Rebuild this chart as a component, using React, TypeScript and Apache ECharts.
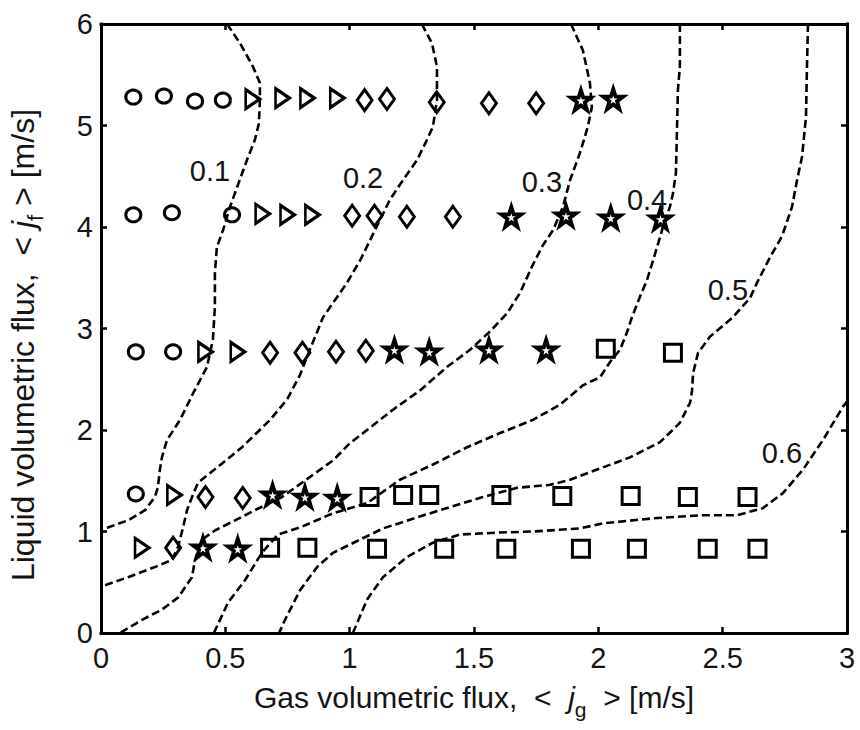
import React, { useEffect, useRef } from 'react';
import * as echarts from 'echarts';

const FONT = '"Liberation Sans", Arial, sans-serif';
const TEXT_COLOR = '#141414';

// axis ranges / ticks
const xRange = [0, 3];
const xStep = 0.5;
const yRange = [0, 6];
const yStep = 1;

// measured marker points [jg, jf]
const circlePts = [
  [0.13, 5.28], [0.253, 5.29], [0.378, 5.24], [0.49, 5.25],
  [0.13, 4.12], [0.285, 4.14], [0.527, 4.12],
  [0.14, 2.77], [0.29, 2.77],
  [0.14, 1.37],
];
const trianglePts = [
  [0.61, 5.26], [0.73, 5.27], [0.83, 5.27], [0.95, 5.27],
  [0.65, 4.13], [0.75, 4.12], [0.85, 4.12],
  [0.42, 2.77], [0.55, 2.77],
  [0.295, 1.36],
  [0.165, 0.84],
];
const diamondPts = [
  [1.06, 5.25], [1.15, 5.26], [1.35, 5.23], [1.56, 5.22], [1.75, 5.22],
  [1.01, 4.11], [1.10, 4.11], [1.23, 4.10], [1.415, 4.10],
  [0.68, 2.76], [0.81, 2.76], [0.945, 2.77], [1.065, 2.78],
  [0.42, 1.34], [0.57, 1.33],
  [0.29, 0.84],
];
const starPts = [
  [1.93, 5.25], [2.06, 5.26],
  [1.65, 4.10], [1.87, 4.11], [2.05, 4.09], [2.25, 4.08],
  [1.18, 2.79], [1.32, 2.77], [1.56, 2.79], [1.79, 2.79],
  [0.69, 1.36], [0.82, 1.34], [0.95, 1.33],
  [0.41, 0.84], [0.55, 0.83],
];
const squarePts = [
  [2.03, 2.80], [2.30, 2.76],
  [1.08, 1.34], [1.215, 1.36], [1.32, 1.36], [1.61, 1.36], [1.855, 1.35], [2.13, 1.35], [2.36, 1.34], [2.60, 1.34],
  [0.68, 0.84], [0.83, 0.84], [1.11, 0.83], [1.38, 0.83], [1.63, 0.83], [1.93, 0.83], [2.155, 0.83], [2.44, 0.83], [2.64, 0.83],
];

// contour lines of void fraction
const contour01 = [
  [0.507, 6.0], [0.559, 5.81], [0.611, 5.58], [0.639, 5.42], [0.639, 5.25], [0.635, 5.02], [0.619, 4.86],
  [0.587, 4.66], [0.547, 4.39], [0.519, 4.20], [0.491, 3.97], [0.466, 3.80], [0.458, 3.55], [0.458, 3.21],
  [0.450, 2.89], [0.426, 2.62], [0.370, 2.36], [0.318, 2.10], [0.265, 1.90], [0.245, 1.73], [0.237, 1.61],
  [0.229, 1.44], [0.217, 1.34], [0.177, 1.21], [0.109, 1.11], [0.028, 1.04], [0, 1.03],
];
const contour02 = [
  [1.29, 6.0], [1.331, 5.81], [1.351, 5.58], [1.351, 5.25], [1.335, 4.99], [1.311, 4.86], [1.271, 4.66],
  [1.214, 4.46], [1.162, 4.27], [1.082, 3.87], [1.042, 3.67], [0.989, 3.45], [0.893, 3.11], [0.828, 2.72],
  [0.80, 2.54], [0.748, 2.30], [0.68, 2.10], [0.567, 1.83], [0.487, 1.67], [0.390, 1.48], [0.366, 1.34],
  [0.346, 1.21], [0.330, 1.04], [0.310, 0.85], [0.286, 0.72], [0.217, 0.65], [0.109, 0.55], [0.016, 0.47], [0, 0.46],
];
const contour03 = [
  [1.89, 6.0], [1.938, 5.74], [1.966, 5.42], [1.974, 5.18], [1.958, 4.99], [1.926, 4.73], [1.886, 4.46],
  [1.858, 4.20], [1.818, 3.97], [1.777, 3.82], [1.733, 3.61], [1.685, 3.35], [1.633, 3.15], [1.564, 2.97],
  [1.484, 2.79], [1.391, 2.62], [1.283, 2.39], [1.174, 2.20], [1.070, 2.00], [1.001, 1.87], [0.933, 1.70],
  [0.808, 1.48], [0.728, 1.34], [0.619, 1.21], [0.539, 1.11], [0.458, 1.01], [0.406, 0.92], [0.378, 0.72],
  [0.366, 0.55], [0.310, 0.35], [0.245, 0.23], [0.165, 0.13], [0.097, 0.03], [0.076, 0],
];
const contour04 = [
  [2.328, 6.0], [2.328, 5.58], [2.320, 5.35], [2.316, 4.93], [2.312, 4.53], [2.300, 4.33], [2.288, 4.20],
  [2.260, 4.00], [2.236, 3.80], [2.220, 3.67], [2.196, 3.48], [2.167, 3.31], [2.135, 3.11], [2.115, 2.96],
  [2.087, 2.79], [2.047, 2.67], [2.007, 2.52], [1.938, 2.44], [1.846, 2.25], [1.737, 2.10], [1.605, 1.97],
  [1.472, 1.83], [1.335, 1.66], [1.202, 1.51], [1.070, 1.28], [0.933, 1.18], [0.800, 1.04], [0.712, 0.97],
  [0.647, 0.79], [0.579, 0.52], [0.511, 0.30], [0.454, 0],
];
const contour05 = [
  [2.843, 6.0], [2.839, 5.58], [2.835, 5.08], [2.819, 4.69], [2.799, 4.46], [2.779, 4.20], [2.743, 3.94],
  [2.730, 3.87], [2.690, 3.70], [2.638, 3.45], [2.610, 3.30], [2.541, 3.11], [2.449, 2.92], [2.401, 2.76],
  [2.381, 2.56], [2.377, 2.39], [2.369, 2.27], [2.328, 2.07], [2.248, 1.88], [2.127, 1.73], [1.995, 1.61],
  [1.886, 1.51], [1.806, 1.46], [1.673, 1.43], [1.536, 1.34], [1.403, 1.24], [1.271, 1.14], [1.134, 1.03],
  [1.042, 0.92], [0.933, 0.79], [0.869, 0.65], [0.800, 0.42], [0.740, 0.13], [0.716, 0],
];
const contour06 = [
  [1.013, 0], [1.070, 0.33], [1.134, 0.55], [1.231, 0.75], [1.335, 0.89], [1.444, 0.97], [1.605, 0.99],
  [1.737, 1.00], [1.926, 1.03], [2.019, 1.08], [2.220, 1.13], [2.421, 1.16], [2.558, 1.16], [2.662, 1.23],
  [2.743, 1.38], [2.823, 1.61], [2.903, 1.90], [2.984, 2.23], [3.0, 2.28],
];
const contours = [contour01, contour02, contour03, contour04, contour05, contour06];
const contourLevels = ['0.1', '0.2', '0.3', '0.4', '0.5', '0.6'];
const contourLabelAt = [
  [0.438, 4.55], [1.054, 4.48], [1.773, 4.44], [2.196, 4.27], [2.521, 3.38], [2.738, 1.77],
];

const STAR = 'path://M50,2 L61,36 L97,36 L68,57 L79,92 L50,71 L21,92 L32,57 L3,36 L39,36 Z';
const TRI_RIGHT = 'path://M0,0 L100,50 L0,100 Z';

export default function App() {
  const ref = useRef<HTMLDivElement>(null);

  useEffect(() => {
    if (!ref.current) return;
    const chart = echarts.init(ref.current, null, { renderer: 'svg' });

    const cvs = document.createElement('canvas');
    const ctx = cvs.getContext('2d') as CanvasRenderingContext2D;
    const mw = (t: string, size: number, italic = false) => {
      ctx.font = `${italic ? 'italic ' : ''}${size}px "Liberation Sans"`;
      return ctx.measureText(t).width;
    };

    const mid = (baseline: number, size: number) => baseline - 0.3465 * size;
    const mkText = (t: string, x: number, y: number, size: number, italic: boolean) => ({
      type: 'text',
      x,
      y,
      silent: true,
      style: {
        text: t,
        fontSize: size,
        fontFamily: FONT,
        fontStyle: italic ? 'italic' : 'normal',
        fill: TEXT_COLOR,
        align: 'left',
        textAlign: 'left',
        verticalAlign: 'middle',
        textVerticalAlign: 'middle',
      },
    });

    const buildLabel = (parts: { t: string; size: number; italic?: boolean; sub?: boolean }[], baseline: number, subDrop: number) => {
      const total = parts.reduce((s, p) => s + mw(p.t, p.size, !!p.italic), 0);
      let cx = -total / 2;
      return parts.map((p) => {
        const el = mkText(p.t, cx, mid(baseline + (p.sub ? subDrop : 0), p.size), p.size, !!p.italic);
        cx += mw(p.t, p.size, !!p.italic);
        return el;
      });
    };

    const xNameParts = [
      { t: 'Gas volumetric flux,  <  ', size: 30 },
      { t: 'j', size: 30, italic: true },
      { t: 'g', size: 21, sub: true },
      { t: '  > [m/s]', size: 30 },
    ];
    const yNameParts = [
      { t: 'Liquid volumetric flux,  < ', size: 32 },
      { t: 'j', size: 32, italic: true },
      { t: 'f', size: 22, sub: true },
      { t: ' > [m/s]', size: 32 },
    ];

    const axisCommon = {
      type: 'value',
      axisLine: { show: true, onZero: false, lineStyle: { color: '#000', width: 3, cap: 'square' } },
      axisTick: { show: true, inside: true, length: 6, lineStyle: { color: '#000', width: 2.5 } },
      splitLine: { show: false },
    };

    const markerStyle = { color: 'rgba(0,0,0,0)', borderColor: '#000', borderWidth: 3, opacity: 1 };
    const scatter = (data: number[][], symbol: string, size: any, extra: any = {}) => ({
      type: 'scatter',
      data,
      symbol,
      symbolSize: size,
      symbolKeepAspect: false,
      itemStyle: { ...markerStyle, ...(extra.itemStyle || {}) },
      emphasis: { disabled: true },
      silent: true,
      z: 3,
    });

    const option: any = {
      animation: false,
      backgroundColor: '#fff',
      textStyle: { fontFamily: FONT },
      grid: { left: 101, right: 13, top: 24, bottom: 97, containLabel: false },
      xAxis: [
        {
          ...axisCommon,
          position: 'bottom',
          min: xRange[0],
          max: xRange[1],
          interval: xStep,
          axisLabel: { fontSize: 29, color: TEXT_COLOR, margin: 10, fontFamily: FONT, formatter: (v: number) => String(v) },
        },
        {
          ...axisCommon,
          position: 'top',
          min: xRange[0],
          max: xRange[1],
          interval: xStep,
          axisLabel: { show: false },
        },
      ],
      yAxis: [
        {
          ...axisCommon,
          position: 'left',
          min: yRange[0],
          max: yRange[1],
          interval: yStep,
          axisLabel: { fontSize: 29, color: TEXT_COLOR, margin: 8, fontFamily: FONT, formatter: (v: number) => String(v) },
        },
        {
          ...axisCommon,
          position: 'right',
          min: yRange[0],
          max: yRange[1],
          interval: yStep,
          axisLabel: { show: false },
        },
      ],
      series: [
        ...contours.map((c) => ({
          type: 'line',
          data: c,
          symbol: 'none',
          showSymbol: false,
          silent: true,
          lineStyle: { color: '#000', width: 2.6, type: [8, 4] },
          z: 2,
        })),
        scatter(circlePts, 'circle', [15, 14]),
        scatter(trianglePts, TRI_RIGHT, [14, 19]),
        scatter(diamondPts, 'diamond', [15, 21]),
        scatter(starPts, STAR, [20, 20], { itemStyle: { borderWidth: 3.8 } }),
        scatter(squarePts, 'rect', [17, 17]),
        {
          type: 'scatter',
          data: contourLabelAt.map((p, i) => ({ value: p, name: contourLevels[i] })),
          symbolSize: 1,
          itemStyle: { color: 'rgba(0,0,0,0)', opacity: 1 },
          silent: true,
          label: {
            show: true,
            position: 'inside',
            formatter: '{b}',
            fontSize: 29,
            color: TEXT_COLOR,
            opacity: 1,
            fontFamily: FONT,
          },
          z: 4,
        },
      ],
      graphic: [
        {
          type: 'group',
          x: 474,
          y: 0,
          children: buildLabel(xNameParts, 708, 9),
        },
        {
          type: 'group',
          x: 34,
          y: 345,
          rotation: Math.PI / 2,
          children: buildLabel(yNameParts, 0, 9),
        },
      ],
    };

    chart.setOption(option);
    return () => chart.dispose();
  }, []);

  return (
    <div
      ref={ref}
      style={{ position: 'fixed', left: 0, top: 0, width: 860, height: 730, background: '#fff' }}
    />
  );
}
